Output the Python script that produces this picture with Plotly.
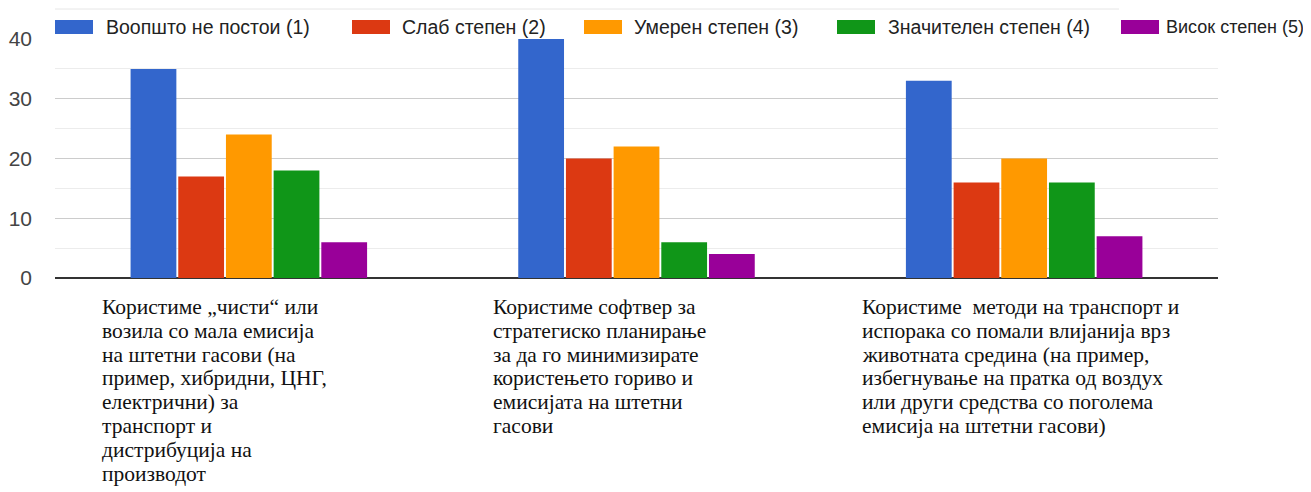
import plotly.graph_objects as go

categories = [
    "Користиме „чисти“ или\nвозила со мала емисија\nна штетни гасови (на\nпример, хибридни, ЦНГ,\nелектрични) за\nтранспорт и\nдистрибуција на\nпроизводот",
    "Користиме софтвер за\nстратегиско планирање\nза да го минимизирате\nкористењето гориво и\nемисијата на штетни\nгасови",
    "Користиме  методи на транспорт и\nиспорака со помали влијанија врз\nживотната средина (на пример,\nизбегнување на пратка од воздух\nили други средства со поголема\nемисија на штетни гасови)",
]
series_names = ["Воопшто не постои (1)", "Слаб степен (2)", "Умерен степен (3)",
                "Значителен степен (4)", "Висок степен (5)"]
values = [
    [35, 40, 33],
    [17, 20, 16],
    [24, 22, 20],
    [18, 6, 16],
    [6, 4, 7],
]
colors = ["#3366cc", "#dc3912", "#ff9900", "#109618", "#990099"]
y_ticks = [0, 10, 20, 30, 40]

OFF = 8  # page body margin
W, H = 1303, 484
L, R, T, B = 47, 93, 31, 214
pw, ph = W - L - R, H - T - B

def px_x(x):
    return (x - OFF - L) / pw

def px_y(y):
    return (H - B - (y - OFF)) / ph

xs = list(range(len(categories)))
fig = go.Figure()
for name, vals, col in zip(series_names, values, colors):
    fig.add_trace(go.Bar(x=xs, y=vals, name=name, marker=dict(color=col, line=dict(width=0)),
                         showlegend=False))

# manual legend (wide boxes like the reference)
legend_pos = [(55, 104), (352, 400), (584, 632), (837, 886), (1121, 1164)]
legend_font = [19.5, 19.5, 19.5, 19.5, 18]
shapes = []
annotations = []
for (bx, tx), fs, name, col in zip(legend_pos, legend_font, series_names, colors):
    shapes.append(dict(type="rect", xref="paper", yref="paper",
                       x0=px_x(bx), x1=px_x(bx + 38), y0=px_y(34), y1=px_y(20),
                       fillcolor=col, line=dict(width=0), layer="above"))
    annotations.append(dict(xref="paper", yref="paper", x=px_x(tx), y=px_y(27),
                            text=name, showarrow=False, xanchor="left", yanchor="middle",
                            font=dict(family="Liberation Sans, Arial", size=fs, color="#222")))

# faint top border line of the legend area
shapes.append(dict(type="line", xref="paper", yref="paper", x0=px_x(55), x1=px_x(1119),
                   y0=px_y(9), y1=px_y(9), line=dict(color="#e6e6e6", width=1)))

# category labels below the axis, one annotation per line
label_x = [100, 491, 860]
line_h = 23.8
for cat, lx in zip(categories, label_x):
    for j, line in enumerate(cat.split("\n")):
        annotations.append(dict(xref="paper", yref="paper", x=px_x(lx), y=px_y(307 + j * line_h),
                                text=line, showarrow=False, xanchor="left", yanchor="middle",
                                align="left",
                                font=dict(family="Liberation Serif, Times New Roman", size=21.5,
                                          color="#111")))

fig.update_layout(
    width=W, height=H,
    margin=dict(l=L, r=R, t=T, b=B, autoexpand=False),
    paper_bgcolor="white", plot_bgcolor="white",
    barmode="group", bargap=0.385, bargroupgap=0.04,
    showlegend=False,
    shapes=shapes, annotations=annotations,
    xaxis=dict(range=[-0.5, 2.5], showticklabels=False, showgrid=False, zeroline=False,
               showline=False, fixedrange=True, automargin=False),
    yaxis=dict(range=[0, 40], tickvals=y_ticks, showgrid=True, gridcolor="#cccccc",
               gridwidth=1, zeroline=True, zerolinecolor="#333333", zerolinewidth=2,
               minor=dict(dtick=5, showgrid=True, gridcolor="#ececec", gridwidth=1),
               tickfont=dict(family="Liberation Sans, Arial", size=21, color="#444"),
               ticks="", ticklabelstandoff=22, showline=False, automargin=False),
)

fig.write_html("out.html")
